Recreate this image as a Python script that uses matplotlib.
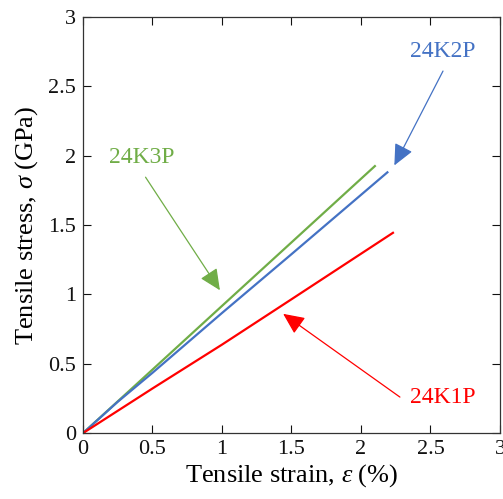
import matplotlib.pyplot as plt

plt.rcParams['font.family'] = 'Liberation Serif'
plt.rcParams['mathtext.fontset'] = 'custom'
plt.rcParams['mathtext.rm'] = 'Liberation Serif'
plt.rcParams['mathtext.it'] = 'Liberation Serif:italic'

# strain (%) vs stress (GPa)
strain_3p = [0, 0.5, 1.0, 1.5, 2.1]
stress_3p = [0, 0.458, 0.917, 1.375, 1.925]
strain_2p = [0, 0.25, 0.5, 1.0, 1.5, 2.19]
stress_2p = [0, 0.226, 0.435, 0.866, 1.29, 1.88]
strain_1p = [0, 0.5, 1.0, 1.5, 2.23]
stress_1p = [0, 0.322, 0.638, 0.965, 1.444]

ticks = [0, 0.5, 1, 1.5, 2, 2.5, 3]
tick_labels = ['0', '0.5', '1', '1.5', '2', '2.5', '3']

green = '#70AD47'
blue = '#4472C4'
red = '#FF0000'

fig = plt.figure(figsize=(5.03, 4.99), dpi=100)
ax = fig.add_axes([0.165, 0.132, 0.829, 0.834])

ax.plot(strain_3p, stress_3p, color=green, lw=1.6)
ax.plot(strain_2p, stress_2p, color=blue, lw=1.6)
ax.plot(strain_1p, stress_1p, color=red, lw=1.6)

ax.set_xlim(0, 3)
ax.set_ylim(0, 3)
ax.set_xticks(ticks)
ax.set_xticklabels(tick_labels)
ax.set_yticks(ticks)
ax.set_yticklabels(tick_labels)
ax.tick_params(direction='in', top=True, right=True, length=6, width=0.8,
               labelsize=16, colors='#111111', pad=5)
for sp in ax.spines.values():
    sp.set_color('#333333')
    sp.set_linewidth(0.9)

ax.set_xlabel(r'Tensile strain, $\mathit{\varepsilon}\ $(%)', fontsize=19, labelpad=2)
ax.set_ylabel(r'Tensile stress, $\mathit{\sigma}\ $(GPa)', fontsize=19, labelpad=6)

# labels with arrows
arr = dict(arrowstyle='-|>,head_length=1.3,head_width=0.6', lw=0.9, shrinkA=0, shrinkB=0)
ax.annotate('', xy=(0.985, 1.03), xytext=(0.45, 1.845),
            arrowprops=dict(arr, color=green))
ax.text(0.42, 1.99, '24K3P', color=green, fontsize=17, ha='center', va='center')

ax.annotate('', xy=(2.24, 1.93), xytext=(2.59, 2.61),
            arrowprops=dict(arr, color=blue))
ax.text(2.59, 2.75, '24K2P', color=blue, fontsize=17, ha='center', va='center')

ax.annotate('', xy=(1.44, 0.86), xytext=(2.28, 0.26),
            arrowprops=dict(arr, color=red))
ax.text(2.59, 0.26, '24K1P', color=red, fontsize=17, ha='center', va='center')

fig.savefig('out.png', dpi=100)
